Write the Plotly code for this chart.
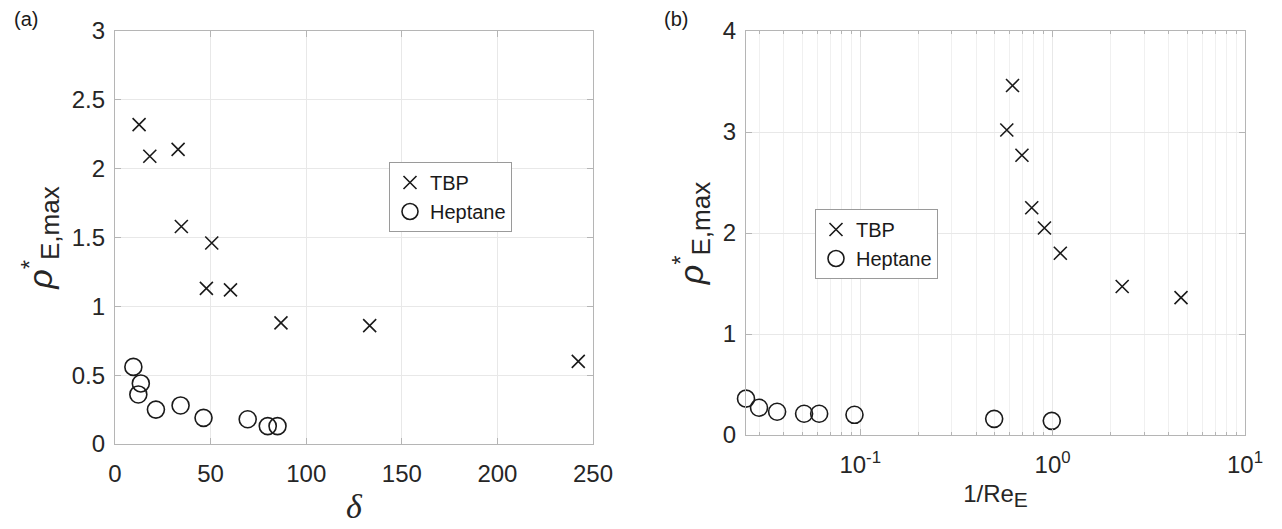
import plotly.graph_objects as go

# ---- data ----
delta_tbp = [12.6, 18.2, 33.0, 34.7, 50.6, 47.8, 60.4, 86.8, 133.2, 242.3]
rho_tbp_a = [2.32, 2.09, 2.14, 1.58, 1.46, 1.13, 1.12, 0.88, 0.86, 0.60]
delta_hep = [9.6, 13.5, 12.2, 21.4, 34.3, 46.3, 69.4, 79.9, 85.0]
rho_hep_a = [0.56, 0.44, 0.36, 0.25, 0.28, 0.19, 0.18, 0.13, 0.13]

inv_re_tbp = [0.619, 0.578, 0.693, 0.779, 0.907, 1.097, 2.30, 4.65]
rho_tbp_b = [3.46, 3.02, 2.77, 2.25, 2.05, 1.80, 1.47, 1.36]
inv_re_hep = [0.0255, 0.0298, 0.0370, 0.0511, 0.0612, 0.0934, 0.497, 0.99]
rho_hep_b = [0.36, 0.27, 0.23, 0.21, 0.21, 0.20, 0.16, 0.14]

series_names = ["TBP", "Heptane"]
log_tickvals = [0.1, 1, 10]
log_ticktext = ["10<sup>-1</sup>", "10<sup>0</sup>", "10<sup>1</sup>"]
log_minor_vals = [m * 10.0 ** e for e in (-2, -1, 0) for m in range(2, 10)]
log_minor_vals = [v for v in log_minor_vals if v > 0.0255]

INK = "#1a1a1a"
AX = "#b5b5b5"
GRID = "#e8e8e8"
FONT = "Liberation Sans, Arial, sans-serif"

x_marker = dict(symbol="x-thin-open", size=13, color=INK, line=dict(color=INK, width=1.6))
o_marker = dict(symbol="circle-open", size=17, color=INK, line=dict(color=INK, width=1.6))

fig = go.Figure()
fig.add_trace(go.Scatter(x=delta_tbp, y=rho_tbp_a, mode="markers", name=series_names[0],
                         marker=x_marker, xaxis="x", yaxis="y", legend="legend", cliponaxis=False))
fig.add_trace(go.Scatter(x=delta_hep, y=rho_hep_a, mode="markers", name=series_names[1],
                         marker=o_marker, xaxis="x", yaxis="y", legend="legend", cliponaxis=False))
fig.add_trace(go.Scatter(x=inv_re_tbp, y=rho_tbp_b, mode="markers", name=series_names[0],
                         marker=x_marker, xaxis="x2", yaxis="y2", legend="legend2", cliponaxis=False))
fig.add_trace(go.Scatter(x=inv_re_hep, y=rho_hep_b, mode="markers", name=series_names[1],
                         marker=o_marker, xaxis="x2", yaxis="y2", legend="legend2", cliponaxis=False))

# The page body has an 8px default margin; size the figure so it fills the window.
OFF = 8
W, H = 1282 - OFF, 529 - OFF
def px_x(p):
    return (p - OFF) / W
def px_y(p):
    return 1 - (p - OFF) / H

common = dict(showline=True, linecolor=AX, linewidth=1.4, mirror="ticks", ticks="inside",
              ticklen=6, tickcolor=AX, tickwidth=1, showgrid=True, gridcolor=GRID, gridwidth=1,
              zeroline=False, automargin=False,
              tickfont=dict(family=FONT, size=24, color="#262626"))

ylab = ("<i>ρ</i><sup>*</sup><sub><span style='font-size:26px'>E,max</span></sub>")

fig.update_layout(
    width=W, height=H, margin=dict(l=0, r=0, t=0, b=0, autoexpand=False),
    paper_bgcolor="white", plot_bgcolor="white", showlegend=True,
    font=dict(family=FONT, color="#262626"),
    xaxis=dict(domain=[px_x(115), px_x(593)], range=[0, 250], dtick=50, anchor="y",
               ticklabelstandoff=8,
               title=dict(text="<i>δ</i>", font=dict(family="Liberation Serif, Times New Roman, serif", size=34), standoff=8),
               **common),
    yaxis=dict(domain=[px_y(444), px_y(31)], range=[0, 3], dtick=0.5, anchor="x",
               ticklabelstandoff=4,
               title=dict(text=ylab, font=dict(family=FONT, size=34), standoff=8),
               **common),
    xaxis2=dict(domain=[px_x(746), px_x(1245)], type="log", range=[-1.5935, 1], anchor="y2",
                tickmode="array", tickvals=log_tickvals, ticktext=log_ticktext,
                ticklabelstandoff=8,
                minor=dict(tickmode="array", tickvals=log_minor_vals, ticks="inside", ticklen=3,
                           tickcolor=AX, showgrid=True, gridcolor="#f0f0f0"),
                title=dict(text="1/Re<sub><span style='font-size:21px'>E</span></sub>",
                           font=dict(family=FONT, size=24), standoff=8),
                **common),
    yaxis2=dict(domain=[px_y(435), px_y(31)], range=[0, 4], dtick=1, anchor="x2",
                ticklabelstandoff=4,
                title=dict(text=ylab, font=dict(family=FONT, size=34), standoff=8),
                **common),
    legend=dict(x=px_x(389), y=px_y(162), xanchor="left", yanchor="top",
                bgcolor="white", bordercolor="#9a9a9a", borderwidth=1,
                font=dict(family=FONT, size=20, color=INK), tracegroupgap=0, itemwidth=30),
    legend2=dict(x=px_x(815), y=px_y(209), xanchor="left", yanchor="top",
                 bgcolor="white", bordercolor="#9a9a9a", borderwidth=1,
                 font=dict(family=FONT, size=20, color=INK), tracegroupgap=0, itemwidth=30),
    annotations=[
        dict(text="(a)", x=px_x(12), y=px_y(6), xref="paper", yref="paper",
             xanchor="left", yanchor="top", showarrow=False, font=dict(family=FONT, size=20, color=INK)),
        dict(text="(b)", x=px_x(662), y=px_y(6), xref="paper", yref="paper",
             xanchor="left", yanchor="top", showarrow=False, font=dict(family=FONT, size=20, color=INK)),
    ],
)

fig.write_html("out.html")
